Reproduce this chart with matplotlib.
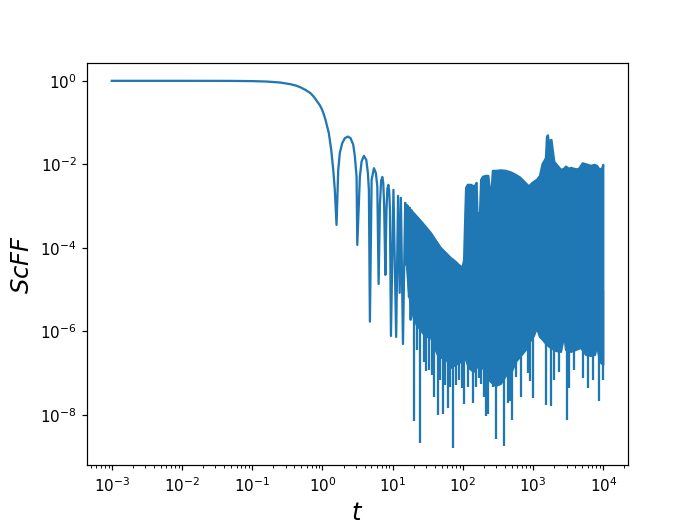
import numpy as np
import matplotlib
matplotlib.use("Agg")
import matplotlib.pyplot as plt

# ---- resolved part of the curve ----
t_line = [1e-3, 3e-3, 1e-2, 3e-2, 0.05, 0.103, 0.163, 0.252, 0.35, 0.42, 0.487, 0.58,
          0.676, 0.76, 0.843, 0.92, 0.993, 1.05, 1.107, 1.234, 1.335, 1.426, 1.502, 1.589,
          1.68, 1.771, 1.917, 2.087, 2.303, 2.517, 2.751, 2.90, 3.065, 3.137,
          3.417, 3.613, 3.896, 4.217, 4.444, 4.592, 4.746,
          5.02, 5.413, 5.78, 6.05, 6.318,
          6.59, 6.85, 7.13, 7.35, 7.57, 7.88,
          8.17, 8.42, 8.69, 8.93, 9.16, 9.46,
          10.27, 11.23, 11.95, 12.6, 13.1, 14.04,
          15.09, 15.7, 16.38, 17.1, 17.6, 18.08, 18.68]
v_line = [1.0, 1.0, 1.0, 0.998, 0.996, 0.984, 0.96, 0.91, 0.83, 0.77, 0.70, 0.60,
          0.507, 0.41, 0.319, 0.26, 0.202, 0.155, 0.1164, 0.0559, 0.02225, 7.38e-3,
          2.45e-3, 3.55e-4,
          7.38e-3, 0.0189, 0.0322, 0.0424, 0.0463, 0.0424, 0.0293, 0.0154, 5.1e-3, 1.18e-4,
          5.1e-3, 0.01167, 0.016, 0.0128, 6.15e-3, 2.45e-3, 1.72e-6,
          4.25e-3, 8.1e-3, 6.15e-3, 2.94e-3, 1.37e-5,
          1.07e-3, 4.0e-3, 5.0e-3, 3.6e-3, 1.07e-3, 2.26e-5,
          8.1e-4, 2.6e-3, 3.23e-3, 2.3e-3, 8.1e-4, 7.8e-7,
          2.45e-3, 7.4e-7, 1.76e-3, 8.4e-6, 1.58e-3, 5.0e-7,
          1.2e-3, 3.9e-5, 1.01e-3, 6.7e-6, 9.1e-4, 1.9e-6, 7.7e-4]

# ---- dense oscillating band: upper envelope ----
t_upper = [15.85, 18.08, 21.31, 25.11, 29.6, 34.88, 41.1, 48.45, 57.1, 67.3, 79.3,
           87.5, 98.9, 104.2, 108.4, 111.3, 117.7, 129.9, 140.1, 144.3, 149.1,
           157.1, 161.8, 167.8, 175.7, 182.2, 192.7, 212.6, 230.8, 242.4, 248.9,
           257.2, 267.6, 300.2, 348, 410, 483.5, 551, 649.6, 766, 873.5, 980,
           1136, 1254, 1370, 1453, 1527, 1578, 1631, 1685, 1741, 1829, 1891,
           2006, 2243, 2500, 2758, 2946, 3252, 3473, 4092, 4517, 5101, 6009,
           6699, 7467, 8158, 8802, 9616, 10000]
v_upper = [1.07e-3, 8.13e-4, 6.0e-4, 4.43e-4, 3.19e-4, 2.29e-4, 1.51e-4, 1.0e-4,
           7.59e-5, 5.75e-5, 4.62e-5, 3.92e-5, 3.32e-5, 5.16e-5, 6.17e-4, 2.74e-3,
           3.23e-3, 3.23e-3, 3.05e-3, 2.16e-4, 3.05e-3, 3.61e-3, 5.84e-4, 6.52e-4,
           6.89e-4, 4.25e-3, 5.02e-3, 5.3e-3, 5.3e-3, 2.45e-3, 1.34e-3, 2.45e-3,
           6.99e-3, 6.99e-3, 7.18e-3, 6.99e-3, 6.43e-3, 5.76e-3, 4.88e-3, 3.71e-3,
           2.97e-3, 3.61e-3, 4.25e-3, 5.3e-3, 1.03e-2, 1.21e-2, 1.43e-2, 4.56e-2,
           4.95e-2, 2.93e-2, 3.66e-2, 3.86e-2, 2.48e-2, 1.15e-2, 9.2e-3, 7.38e-3,
           7.8e-3, 8.86e-3, 7.8e-3, 8.24e-3, 7.59e-3, 7.8e-3, 1.06e-2, 9.73e-3,
           9.2e-3, 9.73e-3, 9.2e-3, 7.59e-3, 7.8e-3, 9.73e-3]

# ---- dense oscillating band: lower edge of the filled part ----
t_lower = [15.85, 16.93, 18.08, 19.95, 22.02, 25.11, 29.6, 34.88, 38.5, 43.9, 50.1,
           59.0, 67.3, 79.3, 93.5, 106.6, 121.6, 143.3, 168.9, 192.7, 219.7,
           250.6, 295.3, 348, 410, 483.5, 569.8, 671.4, 791.4, 902.8, 1029.5,
           1136, 1254, 1384, 1578, 1799, 2121, 2500, 2786, 2946, 3473, 4092,
           4824, 5685, 6699, 7641, 8158, 9006, 10000]
v_lower = [4.62e-5, 9.86e-6, 4.31e-6, 2.11e-6, 1.43e-6, 1.09e-6, 7.38e-7, 7.38e-7,
           4.75e-7, 2.74e-7, 2.32e-7, 2.07e-7, 1.34e-7, 1.58e-7, 1.86e-7, 2.59e-7,
           1.34e-7, 1.07e-7, 1.58e-7, 1.34e-7, 8.6e-8, 6.17e-8, 4.95e-8, 5.53e-8,
           8.6e-8, 9.6e-8, 1.86e-7, 2.59e-7, 3.6e-7, 5.61e-7, 7.8e-7, 1.21e-6,
           7.38e-7, 6.25e-7, 4.75e-7, 4.03e-7, 3.41e-7, 3.23e-7, 8.24e-7, 3.6e-7,
           3.23e-7, 3.6e-7, 4.03e-7, 2.74e-7, 2.59e-7, 2.74e-7, 4.75e-7, 1.86e-7,
           1.58e-7]

# ---- deep minima reaching below the band ----
t_dips = [20.15, 22.39, 24.7, 27.7, 30.1, 33.2, 36.1, 39.1, 43.9, 47.7, 52.6, 56.2,
          61.0, 66.2, 73.1, 80.6, 87.5, 96.6, 104.9, 119.6, 138.7, 153.0, 171.7,
          183.4, 201.1, 216.1, 230.8, 265.0, 298.2, 329.1, 381.5, 433.7, 472.4,
          507.8, 569.8, 678.1, 836.8, 902.8, 986.3, 1527, 1829, 2006, 2317, 2995,
          3219, 3870, 5202, 6031, 7085, 8658, 9900]
v_dips = [7.18e-9, 3.6e-7, 2.13e-9, 1.86e-7, 1.13e-7, 1.2e-7, 9.1e-8, 2.7e-8, 1.0e-8,
          6.9e-8, 1.06e-8, 5.2e-8, 1.47e-8, 4.7e-8, 1.62e-9, 5.2e-8, 6.9e-8, 4.43e-8,
          1.83e-8, 4.7e-8, 1.94e-8, 4.7e-8, 7.7e-8, 5.5e-8, 2.7e-8, 9.5e-9, 1.06e-8,
          4.7e-8, 2.66e-9, 5.2e-8, 1.81e-9, 1.94e-8, 2.16e-8, 7.6e-9, 8.1e-8, 2.7e-8,
          1.01e-7, 6.5e-8, 2.55e-8, 1.74e-8, 1.64e-8, 6.9e-8, 1.07e-7, 7.6e-9,
          4.43e-8, 1.2e-7, 7.7e-8, 4.43e-8, 6.9e-8, 2.16e-8, 6.9e-8]
dip_top = 1e-5

color = "#1f77b4"

fig, ax = plt.subplots(figsize=(6.4, 4.8), dpi=109)
ax.plot(t_line, v_line, color=color, lw=1.5)
ax.fill(np.concatenate([t_upper, t_lower[::-1]]),
        np.concatenate([v_upper, v_lower[::-1]]),
        facecolor=color, edgecolor=color, lw=1.5, joinstyle="round")
ax.vlines(t_dips, dip_top, v_dips, color=color, lw=1.5)
ax.set_xscale("log")
ax.set_yscale("log")
ax.set_xlim(10 ** -3.35, 10 ** 4.35)
ax.set_ylim(10 ** -9.209, 10 ** 0.437)
ax.set_xlabel(r"$t$", fontsize=16)
ax.set_ylabel(r"$ScFF$", fontsize=16)
fig.savefig("out.png", dpi=109)
